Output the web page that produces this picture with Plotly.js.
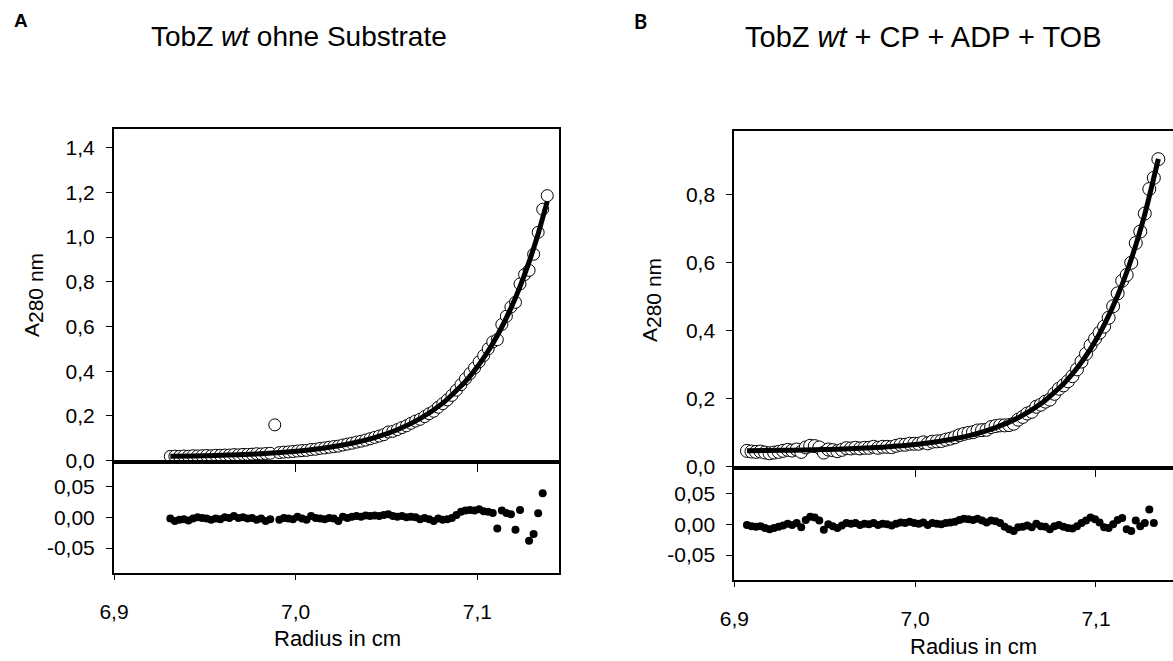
<!DOCTYPE html>
<html>
<head>
<meta charset="utf-8">
<script src="https://cdn.plot.ly/plotly-3.0.1.min.js"></script>
<style>html,body{margin:0;padding:0;background:#fff;}#chart{width:1173px;height:661px;}</style>
</head>
<body>
<div id="chart"></div>
<script>
// ---------- Panel A: TobZ wt ohne Substrate ----------
const radiusA = [6.9310,6.9335,6.9360,6.9385,6.9410,6.9435,6.9460,6.9485,6.9510,6.9535,
6.9560,6.9585,6.9610,6.9635,6.9660,6.9685,6.9710,6.9735,6.9760,6.9785,
6.9810,6.9835,6.9860,6.9885,6.9910,6.9935,6.9960,6.9985,7.0010,7.0035,
7.0060,7.0085,7.0110,7.0135,7.0160,7.0185,7.0210,7.0235,7.0260,7.0285,
7.0310,7.0335,7.0360,7.0385,7.0410,7.0435,7.0460,7.0485,7.0510,7.0535,
7.0560,7.0585,7.0610,7.0635,7.0660,7.0685,7.0710,7.0735,7.0760,7.0785,
7.0810,7.0835,7.0860,7.0885,7.0910,7.0935,7.0960,7.0985,7.1010,7.1035,
7.1060,7.1085,7.1110,7.1135,7.1160,7.1185,7.1210,7.1235,7.1260,7.1285,
7.1310,7.1335,7.1360,7.1385];
const absorbA = [0.019,0.020,0.019,0.021,0.020,0.022,0.021,0.022,0.023,0.022,
0.024,0.024,0.025,0.025,0.027,0.026,0.028,0.028,0.029,0.031,
0.030,0.032,0.033,0.160,0.036,0.038,0.039,0.041,0.043,0.045,
0.046,0.050,0.051,0.055,0.057,0.060,0.063,0.065,0.070,0.074,
0.078,0.083,0.087,0.092,0.098,0.104,0.110,0.116,0.128,0.131,
0.139,0.148,0.156,0.167,0.177,0.185,0.197,0.210,0.221,0.239,
0.255,0.272,0.292,0.315,0.340,0.366,0.390,0.415,0.442,0.470,
0.500,0.531,0.541,0.609,0.646,0.687,0.708,0.790,0.832,0.851,
0.923,1.021,1.124,1.185];
const residA = [-0.002,-0.006,-0.004,-0.003,-0.005,-0.002,0.000,-0.001,-0.002,-0.004,
-0.002,-0.003,0.000,-0.001,0.002,-0.001,0.000,-0.002,-0.001,-0.004,
-0.002,-0.006,-0.003,null,-0.004,-0.001,-0.002,-0.003,0.001,-0.002,
-0.004,0.002,-0.001,-0.002,-0.003,-0.001,-0.002,-0.006,0.001,-0.001,
0.001,0.002,0.001,0.003,0.002,0.003,0.002,0.004,0.005,0.002,
0.001,0.002,0.000,0.001,0.000,-0.003,-0.001,-0.003,-0.006,-0.002,
-0.004,-0.003,-0.001,0.004,0.009,0.011,0.012,0.011,0.013,0.010,
0.009,0.007,-0.018,0.011,0.007,0.005,-0.020,0.012,null,-0.038,
-0.027,0.0065,0.039,null];
const fitRadiusA = [6.9310,6.9435,6.9560,6.9685,6.9810,6.9935,7.0060,7.0185,7.0310,7.0435,
7.0560,7.0685,7.0810,7.0935,7.0985,7.1035,7.1085,7.1135,7.1185,7.1235,7.1285,7.1335,7.1385];
const fitAbsorbA = [0.0192,0.0209,0.0233,0.0266,0.0313,0.0378,0.0470,0.0598,0.0778,0.1030,
0.1384,0.1879,0.2573,0.3546,0.4037,0.4598,0.5241,0.5977,0.6820,0.7784,0.8887,1.0150,1.1595];

// ---------- Panel B: TobZ wt + CP + ADP + TOB ----------
const radiusB = [6.9070,6.9095,6.9120,6.9145,6.9170,6.9195,6.9220,6.9245,6.9270,6.9295,
6.9320,6.9345,6.9370,6.9395,6.9420,6.9445,6.9470,6.9495,6.9520,6.9545,
6.9570,6.9595,6.9620,6.9645,6.9670,6.9695,6.9720,6.9745,6.9770,6.9795,
6.9820,6.9845,6.9870,6.9895,6.9920,6.9945,6.9970,6.9995,7.0020,7.0045,
7.0070,7.0095,7.0120,7.0145,7.0170,7.0195,7.0220,7.0245,7.0270,7.0295,
7.0320,7.0345,7.0370,7.0395,7.0420,7.0445,7.0470,7.0495,7.0520,7.0545,
7.0570,7.0595,7.0620,7.0645,7.0670,7.0695,7.0720,7.0745,7.0770,7.0795,
7.0820,7.0845,7.0870,7.0895,7.0920,7.0945,7.0970,7.0995,7.1020,7.1045,
7.1070,7.1095,7.1120,7.1145,7.1170,7.1195,7.1220,7.1245,7.1270,7.1295,
7.1320,7.1345];
const absorbB = [0.046,0.044,0.043,0.044,0.041,0.039,0.041,0.043,0.046,0.049,
0.047,0.050,0.043,0.056,0.061,0.060,0.056,0.041,0.050,0.048,
0.045,0.049,0.054,0.053,0.055,0.053,0.055,0.055,0.058,0.055,
0.058,0.058,0.057,0.061,0.064,0.064,0.067,0.067,0.067,0.071,
0.068,0.073,0.074,0.075,0.079,0.082,0.086,0.092,0.096,0.099,
0.101,0.106,0.107,0.108,0.116,0.119,0.121,0.121,0.122,0.126,
0.138,0.146,0.156,0.161,0.176,0.182,0.191,0.197,0.214,0.229,
0.239,0.251,0.266,0.286,0.309,0.332,0.357,0.376,0.394,0.412,
0.438,0.472,0.510,0.547,0.564,0.600,0.658,0.692,0.745,0.817,
0.850,0.905];
const residB = [-0.001,-0.003,-0.004,-0.003,-0.006,-0.008,-0.006,-0.004,-0.002,0.001,
-0.001,0.002,-0.005,0.007,0.012,0.011,0.006,-0.009,0.000,-0.003,
-0.006,-0.002,0.002,0.001,0.002,-0.001,0.001,0.000,0.002,-0.001,
0.001,0.000,-0.002,0.001,0.003,0.002,0.004,0.002,0.001,0.003,
-0.001,0.002,0.001,0.000,0.002,0.003,0.004,0.007,0.009,0.008,
0.007,0.009,0.006,0.003,0.006,0.005,0.002,-0.004,-0.008,-0.011,
-0.005,-0.004,-0.002,-0.005,0.001,-0.003,-0.004,-0.008,-0.003,-0.001,
-0.004,-0.006,-0.007,-0.003,0.002,0.006,0.011,0.008,0.003,-0.005,
-0.006,0.000,0.007,0.010,-0.008,-0.011,0.006,-0.003,0.002,0.024,
0.002,null];
const fitRadiusB = [6.9070,6.9195,6.9320,6.9445,6.9570,6.9695,6.9820,6.9945,7.0070,7.0195,
7.0320,7.0445,7.0570,7.0695,7.0820,7.0895,7.0970,7.1045,7.1120,7.1195,7.1270,7.1345];
const fitAbsorbB = [0.0465,0.0471,0.0480,0.0492,0.0510,0.0535,0.0570,0.0621,0.0692,0.0794,
0.0938,0.1143,0.1433,0.1845,0.2429,0.2891,0.3462,0.4166,0.5034,0.6105,0.7427,0.9057];

// ---------- tick labels ----------
const radiusTicks = [6.9, 7.0, 7.1];
const radiusTickText = ['6,9', '7,0', '7,1'];
const absTicksA = [0, 0.2, 0.4, 0.6, 0.8, 1.0, 1.2, 1.4];
const absTickTextA = ['0,0','0,2','0,4','0,6','0,8','1,0','1,2','1,4'];
const absTicksB = [0, 0.2, 0.4, 0.6, 0.8];
const absTickTextB = ['0,0','0,2','0,4','0,6','0,8'];
const residTicks = [-0.05, 0, 0.05];
const residTickText = ['-0,05', '0,00', '0,05'];

const titleA = 'TobZ <i>wt</i> ohne Substrate';
const titleB = 'TobZ <i>wt</i> + CP + ADP + TOB';
const xTitle = 'Radius in cm';
const yTitle = "A<sub><span style='font-size:21px'>280 nm</span></sub>";

// ---------- geometry helpers (pixel -> paper fraction) ----------
const W = 1173, H = 661;
const fx = p => p / W;
const fy = p => 1 - p / H;
const FONT = 'Liberation Sans, Arial, sans-serif';

const circ = (x, y, xa, ya, size) => ({
  x: x, y: y, xaxis: xa, yaxis: ya, type: 'scatter', mode: 'markers', hoverinfo: 'skip',
  marker: {symbol: 'circle', size: size, color: '#ffffff', line: {color: '#000000', width: 1}}
});
const fitLine = (x, y, xa, ya) => ({
  x: x, y: y, xaxis: xa, yaxis: ya, type: 'scatter', mode: 'lines', hoverinfo: 'skip',
  line: {color: '#000000', width: 5, shape: 'spline', smoothing: 0.6}
});
const dots = (x, y, xa, ya) => ({
  x: x, y: y, xaxis: xa, yaxis: ya, type: 'scatter', mode: 'markers', hoverinfo: 'skip',
  marker: {symbol: 'circle', size: 8, color: '#000000'}
});

const data = [
  circ(radiusA, absorbA, 'x', 'y', 12),
  fitLine(fitRadiusA, fitAbsorbA, 'x', 'y'),
  dots(radiusA, residA, 'x2', 'y2'),
  circ(radiusB, absorbB, 'x3', 'y3', 13),
  fitLine(fitRadiusB, fitAbsorbB, 'x3', 'y3'),
  dots(radiusB, residB, 'x4', 'y4')
];

const tickFont = {family: FONT, size: 21, color: '#000'};
const baseAx = {showgrid: false, zeroline: false, showline: true, linecolor: '#000', linewidth: 2,
  ticks: 'outside', tickcolor: '#000', tickwidth: 1, tickfont: tickFont, fixedrange: true};

const domAx = [fx(114), fx(558.7)];
const domBx = [fx(734.3), 1];

const layout = {
  width: W, height: H,
  margin: {l: 0, r: 0, t: 0, b: 0, pad: 0},
  paper_bgcolor: '#ffffff', plot_bgcolor: 'rgba(0,0,0,0)',
  showlegend: false,
  font: {family: FONT, color: '#000'},
  xaxis: Object.assign({}, baseAx, {domain: domAx, range: [6.9, 7.1448], anchor: 'y',
    tickvals: [7.0, 7.1], showticklabels: false, ticklen: 8, mirror: true}),
  yaxis: Object.assign({}, baseAx, {domain: [fy(462), fy(129)], range: [-0.006, 1.483], anchor: 'x',
    tickvals: absTicksA, ticktext: absTickTextA, ticklen: 6, mirror: true, ticklabelstandoff: 7}),
  xaxis2: Object.assign({}, baseAx, {domain: domAx, range: [6.9, 7.1448], anchor: 'y2',
    tickvals: radiusTicks, ticktext: radiusTickText, ticklen: 5, mirror: true, ticklabelstandoff: 14}),
  yaxis2: Object.assign({}, baseAx, {domain: [fy(572.7), fy(462)], range: [-0.09, 0.09], anchor: 'x2',
    tickvals: residTicks, ticktext: residTickText, ticklen: 6, mirror: true, ticklabelstandoff: 7}),
  xaxis3: Object.assign({}, baseAx, {domain: domBx, range: [6.9, 7.1426], anchor: 'y3',
    tickvals: [7.0, 7.1], showticklabels: false, ticklen: 7, mirror: true}),
  yaxis3: Object.assign({}, baseAx, {domain: [fy(467.5), fy(131)], range: [-0.003, 0.988], anchor: 'x3',
    tickvals: absTicksB, ticktext: absTickTextB, ticklen: 6, mirror: false, ticklabelstandoff: 7}),
  xaxis4: Object.assign({}, baseAx, {domain: domBx, range: [6.9, 7.1426], anchor: 'y4',
    tickvals: radiusTicks, ticktext: radiusTickText, ticklen: 5, mirror: true, ticklabelstandoff: 14}),
  yaxis4: Object.assign({}, baseAx, {domain: [fy(580), fy(467.5)], range: [-0.0903, 0.092], anchor: 'x4',
    tickvals: residTicks, ticktext: residTickText, ticklen: 6, mirror: false, ticklabelstandoff: 7}),
  annotations: [
    {text: '<b>A</b>', xref: 'paper', yref: 'paper', x: fx(21), y: fy(21), xanchor: 'center', yanchor: 'middle',
      showarrow: false, font: {family: FONT, size: 19}},
    {text: '<b>B</b>', xref: 'paper', yref: 'paper', x: fx(640), y: fy(21), xanchor: 'center', yanchor: 'middle',
      showarrow: false, font: {family: 'Lato, Liberation Sans, sans-serif', size: 20}},
    {text: titleA, xref: 'paper', yref: 'paper', x: fx(298.6), y: fy(37), xanchor: 'center', yanchor: 'middle',
      showarrow: false, font: {family: FONT, size: 28}},
    {text: titleB, xref: 'paper', yref: 'paper', x: fx(923), y: fy(37), xanchor: 'center', yanchor: 'middle',
      showarrow: false, font: {family: FONT, size: 29}},
    {text: xTitle, xref: 'paper', yref: 'paper', x: fx(337.5), y: fy(638), xanchor: 'center', yanchor: 'middle',
      showarrow: false, font: {family: FONT, size: 22}},
    {text: xTitle, xref: 'paper', yref: 'paper', x: fx(973), y: fy(646), xanchor: 'center', yanchor: 'middle',
      showarrow: false, font: {family: FONT, size: 22}},
    {text: yTitle, xref: 'paper', yref: 'paper', x: fx(34), y: fy(295), xanchor: 'center', yanchor: 'middle',
      textangle: -90, showarrow: false, font: {family: FONT, size: 21}},
    {text: yTitle, xref: 'paper', yref: 'paper', x: fx(651), y: fy(300), xanchor: 'center', yanchor: 'middle',
      textangle: -90, showarrow: false, font: {family: FONT, size: 21}}
  ]
};

Plotly.newPlot('chart', data, layout, {displayModeBar: false, staticPlot: true});
</script>
</body>
</html>
